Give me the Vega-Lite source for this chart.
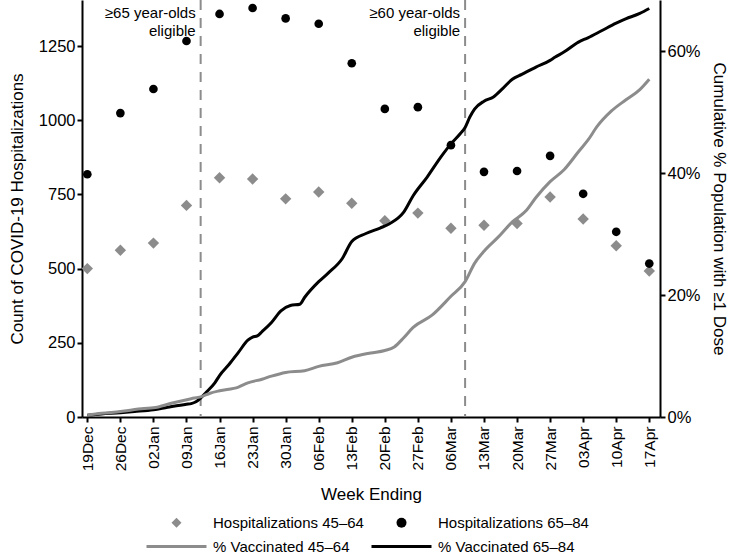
{
  "$schema": "https://vega.github.io/schema/vega-lite/v6.json",
  "autosize": "none",
  "width": 578,
  "height": 417,
  "padding": {"left": 82, "top": 0, "right": 71, "bottom": 137},
  "config": {
    "font": "Liberation Sans",
    "view": {"stroke": null},
    "axis": {
      "grid": false,
      "domainColor": "#000000",
      "domainWidth": 2,
      "tickColor": "#000000",
      "tickWidth": 2,
      "tickSize": 5,
      "labelColor": "#000000",
      "labelFontSize": 15,
      "titleColor": "#000000",
      "titleFontSize": 17,
      "titleFontWeight": "normal"
    }
  },
  "datasets": {
    "hosp": [
      {"date": "2020-12-19", "group": "Hospitalizations 45–64", "count": 500},
      {"date": "2020-12-26", "group": "Hospitalizations 45–64", "count": 562},
      {"date": "2021-01-02", "group": "Hospitalizations 45–64", "count": 586},
      {"date": "2021-01-09", "group": "Hospitalizations 45–64", "count": 713},
      {"date": "2021-01-16", "group": "Hospitalizations 45–64", "count": 806},
      {"date": "2021-01-23", "group": "Hospitalizations 45–64", "count": 802},
      {"date": "2021-01-30", "group": "Hospitalizations 45–64", "count": 735},
      {"date": "2021-02-06", "group": "Hospitalizations 45–64", "count": 758},
      {"date": "2021-02-13", "group": "Hospitalizations 45–64", "count": 720},
      {"date": "2021-02-20", "group": "Hospitalizations 45–64", "count": 661},
      {"date": "2021-02-27", "group": "Hospitalizations 45–64", "count": 687},
      {"date": "2021-03-06", "group": "Hospitalizations 45–64", "count": 636},
      {"date": "2021-03-13", "group": "Hospitalizations 45–64", "count": 646},
      {"date": "2021-03-20", "group": "Hospitalizations 45–64", "count": 652},
      {"date": "2021-03-27", "group": "Hospitalizations 45–64", "count": 741},
      {"date": "2021-04-03", "group": "Hospitalizations 45–64", "count": 667},
      {"date": "2021-04-10", "group": "Hospitalizations 45–64", "count": 577},
      {"date": "2021-04-17", "group": "Hospitalizations 45–64", "count": 492},
      {"date": "2020-12-19", "group": "Hospitalizations 65–84", "count": 818},
      {"date": "2020-12-26", "group": "Hospitalizations 65–84", "count": 1024},
      {"date": "2021-01-02", "group": "Hospitalizations 65–84", "count": 1105},
      {"date": "2021-01-09", "group": "Hospitalizations 65–84", "count": 1267},
      {"date": "2021-01-16", "group": "Hospitalizations 65–84", "count": 1358},
      {"date": "2021-01-23", "group": "Hospitalizations 65–84", "count": 1378},
      {"date": "2021-01-30", "group": "Hospitalizations 65–84", "count": 1343},
      {"date": "2021-02-06", "group": "Hospitalizations 65–84", "count": 1325},
      {"date": "2021-02-13", "group": "Hospitalizations 65–84", "count": 1192},
      {"date": "2021-02-20", "group": "Hospitalizations 65–84", "count": 1038},
      {"date": "2021-02-27", "group": "Hospitalizations 65–84", "count": 1044},
      {"date": "2021-03-06", "group": "Hospitalizations 65–84", "count": 916},
      {"date": "2021-03-13", "group": "Hospitalizations 65–84", "count": 826},
      {"date": "2021-03-20", "group": "Hospitalizations 65–84", "count": 829},
      {"date": "2021-03-27", "group": "Hospitalizations 65–84", "count": 880},
      {"date": "2021-04-03", "group": "Hospitalizations 65–84", "count": 752},
      {"date": "2021-04-10", "group": "Hospitalizations 65–84", "count": 624},
      {"date": "2021-04-17", "group": "Hospitalizations 65–84", "count": 517}
    ],
    "vax": [
      {"date": "2020-12-19", "group": "% Vaccinated 65–84", "pct": 0.3},
      {"date": "2020-12-22", "group": "% Vaccinated 65–84", "pct": 0.5},
      {"date": "2020-12-26", "group": "% Vaccinated 65–84", "pct": 0.7},
      {"date": "2020-12-29", "group": "% Vaccinated 65–84", "pct": 0.9},
      {"date": "2021-01-02", "group": "% Vaccinated 65–84", "pct": 1.2},
      {"date": "2021-01-05", "group": "% Vaccinated 65–84", "pct": 1.6},
      {"date": "2021-01-09", "group": "% Vaccinated 65–84", "pct": 2.1},
      {"date": "2021-01-10", "group": "% Vaccinated 65–84", "pct": 2.2},
      {"date": "2021-01-11", "group": "% Vaccinated 65–84", "pct": 2.5},
      {"date": "2021-01-12", "group": "% Vaccinated 65–84", "pct": 3.1},
      {"date": "2021-01-13", "group": "% Vaccinated 65–84", "pct": 3.9},
      {"date": "2021-01-15", "group": "% Vaccinated 65–84", "pct": 5.6},
      {"date": "2021-01-16", "group": "% Vaccinated 65–84", "pct": 6.8},
      {"date": "2021-01-18", "group": "% Vaccinated 65–84", "pct": 8.6},
      {"date": "2021-01-20", "group": "% Vaccinated 65–84", "pct": 10.6},
      {"date": "2021-01-22", "group": "% Vaccinated 65–84", "pct": 12.6},
      {"date": "2021-01-23", "group": "% Vaccinated 65–84", "pct": 13.1},
      {"date": "2021-01-24", "group": "% Vaccinated 65–84", "pct": 13.3},
      {"date": "2021-01-25", "group": "% Vaccinated 65–84", "pct": 14.0},
      {"date": "2021-01-27", "group": "% Vaccinated 65–84", "pct": 15.5},
      {"date": "2021-01-29", "group": "% Vaccinated 65–84", "pct": 17.4},
      {"date": "2021-01-31", "group": "% Vaccinated 65–84", "pct": 18.3},
      {"date": "2021-02-02", "group": "% Vaccinated 65–84", "pct": 18.5},
      {"date": "2021-02-03", "group": "% Vaccinated 65–84", "pct": 19.6},
      {"date": "2021-02-06", "group": "% Vaccinated 65–84", "pct": 22.2},
      {"date": "2021-02-08", "group": "% Vaccinated 65–84", "pct": 23.6},
      {"date": "2021-02-11", "group": "% Vaccinated 65–84", "pct": 26.0},
      {"date": "2021-02-13", "group": "% Vaccinated 65–84", "pct": 28.8},
      {"date": "2021-02-16", "group": "% Vaccinated 65–84", "pct": 30.1},
      {"date": "2021-02-19", "group": "% Vaccinated 65–84", "pct": 31.0},
      {"date": "2021-02-21", "group": "% Vaccinated 65–84", "pct": 31.7},
      {"date": "2021-02-24", "group": "% Vaccinated 65–84", "pct": 33.6},
      {"date": "2021-02-26", "group": "% Vaccinated 65–84", "pct": 36.3},
      {"date": "2021-03-01", "group": "% Vaccinated 65–84", "pct": 39.4},
      {"date": "2021-03-04", "group": "% Vaccinated 65–84", "pct": 42.8},
      {"date": "2021-03-06", "group": "% Vaccinated 65–84", "pct": 44.8},
      {"date": "2021-03-08", "group": "% Vaccinated 65–84", "pct": 46.5},
      {"date": "2021-03-09", "group": "% Vaccinated 65–84", "pct": 47.5},
      {"date": "2021-03-10", "group": "% Vaccinated 65–84", "pct": 49.2},
      {"date": "2021-03-11", "group": "% Vaccinated 65–84", "pct": 50.5},
      {"date": "2021-03-13", "group": "% Vaccinated 65–84", "pct": 51.8},
      {"date": "2021-03-15", "group": "% Vaccinated 65–84", "pct": 52.5},
      {"date": "2021-03-17", "group": "% Vaccinated 65–84", "pct": 53.9},
      {"date": "2021-03-19", "group": "% Vaccinated 65–84", "pct": 55.4},
      {"date": "2021-03-21", "group": "% Vaccinated 65–84", "pct": 56.2},
      {"date": "2021-03-24", "group": "% Vaccinated 65–84", "pct": 57.4},
      {"date": "2021-03-27", "group": "% Vaccinated 65–84", "pct": 58.5},
      {"date": "2021-03-28", "group": "% Vaccinated 65–84", "pct": 59.0},
      {"date": "2021-03-30", "group": "% Vaccinated 65–84", "pct": 59.9},
      {"date": "2021-04-02", "group": "% Vaccinated 65–84", "pct": 61.5},
      {"date": "2021-04-04", "group": "% Vaccinated 65–84", "pct": 62.2},
      {"date": "2021-04-07", "group": "% Vaccinated 65–84", "pct": 63.4},
      {"date": "2021-04-10", "group": "% Vaccinated 65–84", "pct": 64.6},
      {"date": "2021-04-12", "group": "% Vaccinated 65–84", "pct": 65.3},
      {"date": "2021-04-15", "group": "% Vaccinated 65–84", "pct": 66.2},
      {"date": "2021-04-17", "group": "% Vaccinated 65–84", "pct": 67.0},
      {"date": "2020-12-19", "group": "% Vaccinated 45–64", "pct": 0.3},
      {"date": "2020-12-22", "group": "% Vaccinated 45–64", "pct": 0.6},
      {"date": "2020-12-26", "group": "% Vaccinated 45–64", "pct": 0.9},
      {"date": "2020-12-31", "group": "% Vaccinated 45–64", "pct": 1.4},
      {"date": "2021-01-02", "group": "% Vaccinated 45–64", "pct": 1.5},
      {"date": "2021-01-06", "group": "% Vaccinated 45–64", "pct": 2.3},
      {"date": "2021-01-10", "group": "% Vaccinated 45–64", "pct": 3.0},
      {"date": "2021-01-12", "group": "% Vaccinated 45–64", "pct": 3.3},
      {"date": "2021-01-14", "group": "% Vaccinated 45–64", "pct": 3.9},
      {"date": "2021-01-16", "group": "% Vaccinated 45–64", "pct": 4.3},
      {"date": "2021-01-20", "group": "% Vaccinated 45–64", "pct": 4.9},
      {"date": "2021-01-22", "group": "% Vaccinated 45–64", "pct": 5.6},
      {"date": "2021-01-25", "group": "% Vaccinated 45–64", "pct": 6.2},
      {"date": "2021-01-27", "group": "% Vaccinated 45–64", "pct": 6.7},
      {"date": "2021-01-30", "group": "% Vaccinated 45–64", "pct": 7.3},
      {"date": "2021-02-03", "group": "% Vaccinated 45–64", "pct": 7.6},
      {"date": "2021-02-06", "group": "% Vaccinated 45–64", "pct": 8.3},
      {"date": "2021-02-10", "group": "% Vaccinated 45–64", "pct": 8.9},
      {"date": "2021-02-13", "group": "% Vaccinated 45–64", "pct": 9.8},
      {"date": "2021-02-17", "group": "% Vaccinated 45–64", "pct": 10.5},
      {"date": "2021-02-20", "group": "% Vaccinated 45–64", "pct": 10.9},
      {"date": "2021-02-22", "group": "% Vaccinated 45–64", "pct": 11.5},
      {"date": "2021-02-24", "group": "% Vaccinated 45–64", "pct": 13.0},
      {"date": "2021-02-26", "group": "% Vaccinated 45–64", "pct": 14.7},
      {"date": "2021-03-02", "group": "% Vaccinated 45–64", "pct": 16.7},
      {"date": "2021-03-06", "group": "% Vaccinated 45–64", "pct": 19.8},
      {"date": "2021-03-09", "group": "% Vaccinated 45–64", "pct": 22.2},
      {"date": "2021-03-11", "group": "% Vaccinated 45–64", "pct": 25.2},
      {"date": "2021-03-13", "group": "% Vaccinated 45–64", "pct": 27.2},
      {"date": "2021-03-16", "group": "% Vaccinated 45–64", "pct": 29.5},
      {"date": "2021-03-19", "group": "% Vaccinated 45–64", "pct": 32.0},
      {"date": "2021-03-22", "group": "% Vaccinated 45–64", "pct": 33.9},
      {"date": "2021-03-24", "group": "% Vaccinated 45–64", "pct": 36.0},
      {"date": "2021-03-27", "group": "% Vaccinated 45–64", "pct": 38.6},
      {"date": "2021-03-30", "group": "% Vaccinated 45–64", "pct": 40.6},
      {"date": "2021-04-02", "group": "% Vaccinated 45–64", "pct": 43.5},
      {"date": "2021-04-04", "group": "% Vaccinated 45–64", "pct": 45.4},
      {"date": "2021-04-06", "group": "% Vaccinated 45–64", "pct": 47.7},
      {"date": "2021-04-09", "group": "% Vaccinated 45–64", "pct": 50.2},
      {"date": "2021-04-12", "group": "% Vaccinated 45–64", "pct": 52.0},
      {"date": "2021-04-15", "group": "% Vaccinated 45–64", "pct": 53.7},
      {"date": "2021-04-17", "group": "% Vaccinated 45–64", "pct": 55.4}
    ],
    "events": [
      {"date": "2021-01-12", "label": ["≥65 year-olds", "eligible"]},
      {"date": "2021-03-09", "label": ["≥60 year-olds", "eligible"]}
    ]
  },
  "encoding": {
    "x": {
      "field": "date", "type": "temporal",
      "scale": {"type": "utc", "domain": [{"year": 2020, "month": 12, "date": 17, "hours": 21, "utc": true}, {"year": 2021, "month": 4, "date": 19, "hours": 6, "minutes": 30, "utc": true}]},
      "axis": {
        "title": "Week Ending",
        "labelExpr": "utcFormat(datum.value, '%d%b')",
        "labelAngle": 270,
        "labelPadding": 4,
        "labelFontSize": 15.5,
        "titlePadding": 16,
        "values": [
          {"year": 2020, "month": 12, "date": 19, "utc": true},
          {"year": 2020, "month": 12, "date": 26, "utc": true},
          {"year": 2021, "month": 1, "date": 2, "utc": true},
          {"year": 2021, "month": 1, "date": 9, "utc": true},
          {"year": 2021, "month": 1, "date": 16, "utc": true},
          {"year": 2021, "month": 1, "date": 23, "utc": true},
          {"year": 2021, "month": 1, "date": 30, "utc": true},
          {"year": 2021, "month": 2, "date": 6, "utc": true},
          {"year": 2021, "month": 2, "date": 13, "utc": true},
          {"year": 2021, "month": 2, "date": 20, "utc": true},
          {"year": 2021, "month": 2, "date": 27, "utc": true},
          {"year": 2021, "month": 3, "date": 6, "utc": true},
          {"year": 2021, "month": 3, "date": 13, "utc": true},
          {"year": 2021, "month": 3, "date": 20, "utc": true},
          {"year": 2021, "month": 3, "date": 27, "utc": true},
          {"year": 2021, "month": 4, "date": 3, "utc": true},
          {"year": 2021, "month": 4, "date": 10, "utc": true},
          {"year": 2021, "month": 4, "date": 17, "utc": true}
        ]
      }
    }
  },
  "layer": [
    {
      "layer": [
        {
          "data": {"name": "events"},
          "mark": {"type": "rule", "color": "#8c8c8c", "strokeWidth": 2, "strokeDash": [10, 8]},
          "encoding": {}
        },
        {
          "data": {"name": "events"},
          "mark": {"type": "text", "align": "right", "baseline": "top", "dx": -5, "fontSize": 15, "lineHeight": 18, "color": "#000000"},
          "encoding": {
            "y": {"datum": 1385, "type": "quantitative"},
            "text": {"field": "label"}
          }
        },
        {
          "data": {"name": "hosp"},
          "mark": {"type": "point", "filled": true, "opacity": 1, "strokeWidth": 0},
          "encoding": {
            "y": {
              "field": "count", "type": "quantitative",
              "scale": {"domain": [0, 1405], "nice": false, "zero": true},
              "axis": {"title": "Count of COVID-19 Hospitalizations", "values": [0, 250, 500, 750, 1000, 1250], "format": "d", "labelFontSize": 16.5, "titlePadding": 12}
            },
            "size": {
              "field": "group", "type": "nominal",
              "scale": {"domain": ["Hospitalizations 45–64", "Hospitalizations 65–84"], "range": [130, 75]},
              "legend": null
            },
            "color": {
              "field": "group", "type": "nominal",
              "scale": {
                "domain": ["Hospitalizations 45–64", "Hospitalizations 65–84", "% Vaccinated 45–64", "% Vaccinated 65–84"],
                "range": ["#8c8c8c", "#000000", "#8c8c8c", "#000000"]
              },
              "legend": {
                "title": null, "orient": "none", "legendX": 87, "legendY": 515, "columns": 2, "direction": "horizontal",
                "symbolSize": 100, "symbolStrokeWidth": 0, "labelFontSize": 15, "labelColor": "#000000",
                "labelOffset": 29, "rowPadding": 8, "columnPadding": 7
              }
            },
            "shape": {
              "field": "group", "type": "nominal",
              "scale": {
                "domain": ["Hospitalizations 45–64", "Hospitalizations 65–84", "% Vaccinated 45–64", "% Vaccinated 65–84"],
                "range": ["diamond", "circle", "M-6,-0.3H6V0.3H-6Z", "M-6,-0.3H6V0.3H-6Z"]
              },
              "legend": {
                "title": null, "orient": "none", "legendX": 87, "legendY": 515, "columns": 2, "direction": "horizontal",
                "symbolSize": 100, "symbolStrokeWidth": 0, "labelFontSize": 15, "labelColor": "#000000",
                "labelOffset": 29, "rowPadding": 8, "columnPadding": 7
              }
            }
          }
        }
      ]
    },
    {
      "data": {"name": "vax"},
      "mark": {"type": "line", "strokeWidth": 3, "interpolate": "monotone"},
      "encoding": {
        "y": {
          "field": "pct", "type": "quantitative",
          "scale": {"domain": [0, 68.4], "nice": false},
          "axis": {"orient": "right", "title": "Cumulative % Population with ≥1 Dose", "values": [0, 20, 40, 60], "labelExpr": "datum.value + '%'", "labelFontSize": 16.5, "titlePadding": 9}
        },
        "stroke": {
          "field": "group", "type": "nominal",
          "scale": {"domain": ["% Vaccinated 45–64", "% Vaccinated 65–84"], "range": ["#8c8c8c", "#000000"]},
          "legend": null
        }
      }
    }
  ],
  "resolve": {"scale": {"y": "independent"}}
}
